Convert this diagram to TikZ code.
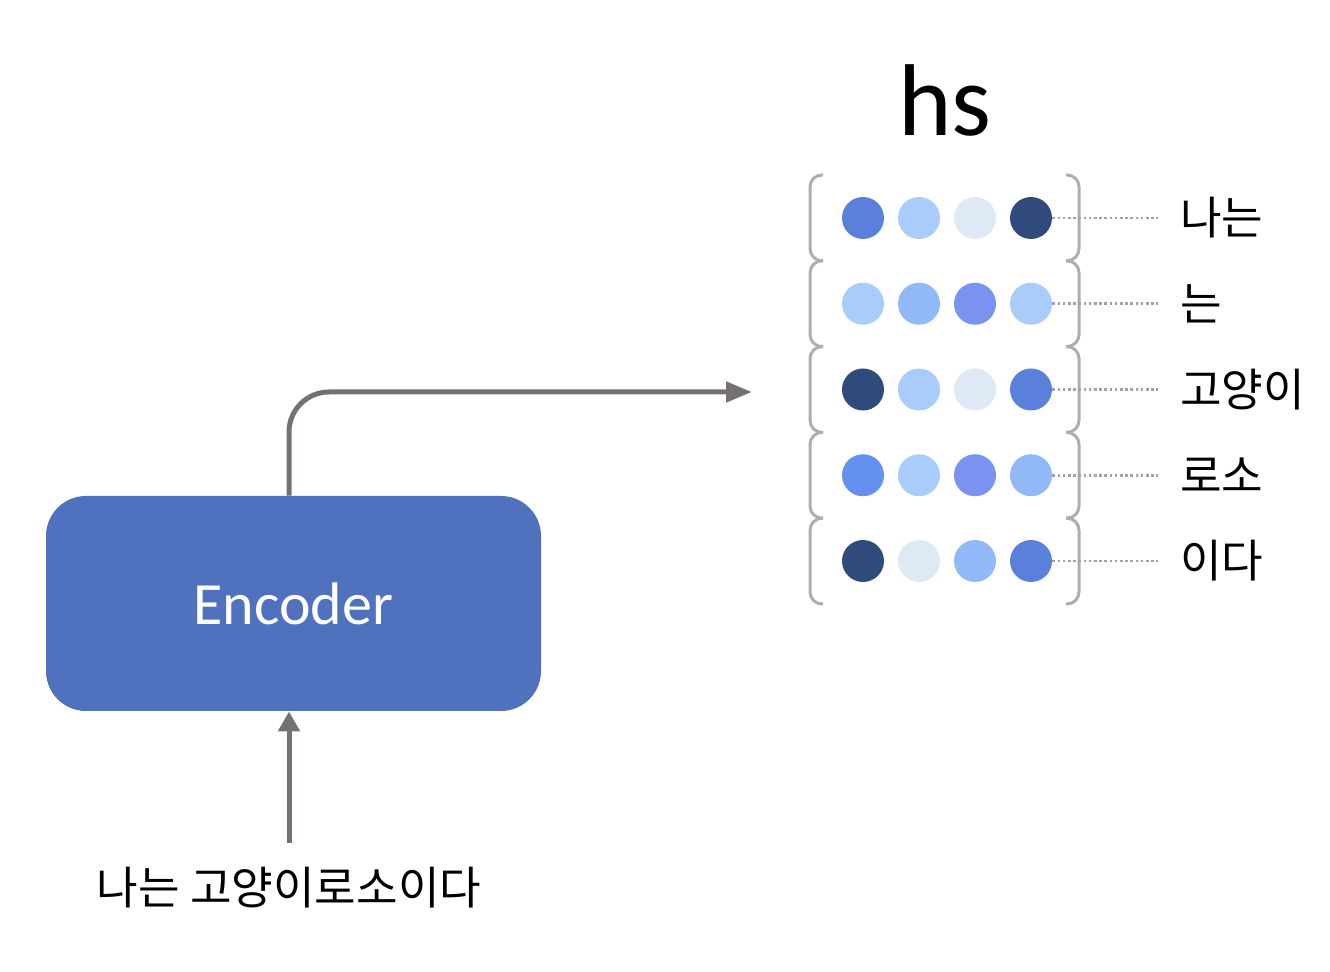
\documentclass[tikz,border=0pt]{standalone}
\usepackage{fontspec}
\setmainfont{Carlito}
\newfontfamily\kr{Noto Sans CJK KR}
\usetikzlibrary{arrows.meta}
\definecolor{encblue}{HTML}{4F71BE}
\definecolor{arrgray}{HTML}{767171}
\definecolor{brkgray}{HTML}{AEAEAE}
\definecolor{dotgray}{HTML}{A3A3A3}
\definecolor{dark}{HTML}{314A7C}
\definecolor{mid}{HTML}{5B80DC}
\definecolor{bright}{HTML}{6490F0}
\definecolor{violet}{HTML}{7A92F0}
\definecolor{soft}{HTML}{92B9F7}
\definecolor{lite}{HTML}{AACCFA}
\definecolor{pale}{HTML}{DFE9F6}
\tikzset{
  enc/.style={draw=none, fill=encblue, rounded corners=20pt, minimum width=247.5pt, minimum height=107.5pt, inner sep=0pt, text=white, font=\fontsize{30}{33}\selectfont},
  flow/.style={draw=arrgray, line width=2.5pt},
  dot/.style={circle, draw=none, minimum size=21pt, inner sep=0pt},
  brk/.style={draw=brkgray, line width=1.5pt, rounded corners=6pt},
  dotline/.style={draw=dotgray, line width=1.4pt, dash pattern=on 1.3pt off 1.3pt, shorten >=11pt},
  lab/.style={anchor=west, inner sep=0pt, font=\kr\fontsize{22.6}{26}\selectfont}
}
\begin{document}
\begin{tikzpicture}[x=0.5pt, y=-0.5pt, line join=round]
\useasboundingbox (0,0) rectangle (1330,972);
\node[enc] (enc) at (293.5,603.5) {Encoder};
\node[inner sep=0pt, font=\kr\fontsize{22.6}{26}\selectfont] (input) at (289,888) {나는 고양이로소이다};
\node[font=\fontsize{51}{56}\selectfont, inner sep=0pt] (hs) at (945,100) {hs};
\coordinate (hsin) at (752,392);
% input -> encoder -> hs
\draw[flow, -{Triangle[length=10pt,width=10.5pt]}, shorten <=12pt] (input.north -| 289,0) -- (enc.south -| 289,0);
\draw[flow, -{Triangle[length=13pt,width=10pt]}, rounded corners=20pt] (enc.north -| 289,0) |- (hsin);
% brackets
\foreach \i in {0,...,4}{
  \pgfmathsetmacro\yt{175+85.8*\i} \pgfmathsetmacro\yb{\yt+85.8}
  \draw[brk] (823,\yt) -- (810,\yt) -- (810,\yb) -- (823,\yb);
  \draw[brk] (1066,\yt) -- (1079,\yt) -- (1079,\yb) -- (1066,\yb);
}
% hidden state dots
\foreach \cols [count=\i] in {{mid,lite,pale,dark},{lite,soft,violet,lite},{dark,lite,pale,mid},{bright,lite,violet,soft},{dark,pale,soft,mid}}
  \foreach \c [count=\j] in \cols
    \node[dot, fill=\c] (d\i\j) at (807+56*\j, 218+85.75*\i-85.75) {};
% token labels
\foreach \w [count=\i] in {나는,는,고양이,로소,이다}{
  \node[lab] (l\i) at (1180, 218+85.75*\i-85.75) {\w};
  \draw[dotline] (d\i4.east) -- (l\i.west);
}
\end{tikzpicture}
\end{document}
